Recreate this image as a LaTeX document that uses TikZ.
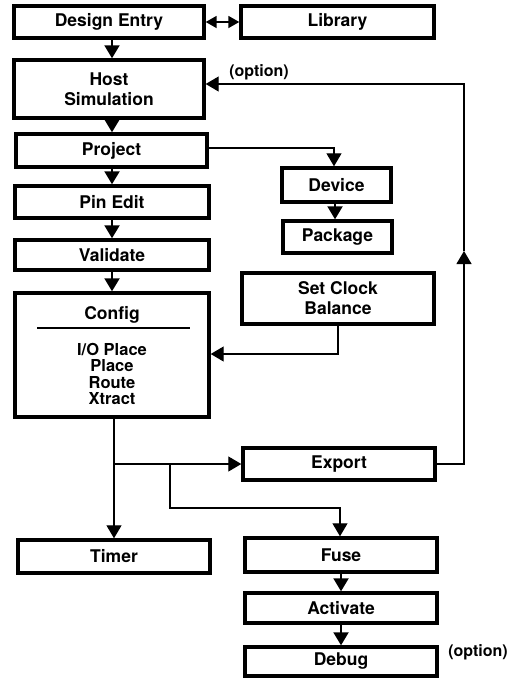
\documentclass[tikz,border=0pt]{standalone}
\usepackage{fontspec}
\setmainfont{TeX Gyre Heros}
\usetikzlibrary{arrows.meta}
\begin{document}
\begin{tikzpicture}[x=1pt,y=-1pt,
  box/.style={draw,line width=3.4pt,inner sep=0pt,font=\fontsize{17.5}{20}\selectfont\bfseries,align=center},
  sarrow/.style={line width=2pt,-{Triangle[length=13pt,width=15pt]}},
  larrow/.style={line width=1.2pt,-{Triangle[length=13pt,width=15pt]}},
  conn/.style={line width=1.2pt},
  lbl/.style={font=\fontsize{16}{18}\selectfont\bfseries,inner sep=0pt},
  cline/.style={font=\fontsize{16.5}{17}\selectfont\bfseries,inner sep=0pt,anchor=base,text height=11.5pt,text depth=3pt}]
\useasboundingbox (0,0) rectangle (521,678);
% boxes
\node[box,minimum width=190pt,minimum height=32pt] (de) at (109,22) {Design Entry};
\node[box,minimum width=193pt,minimum height=32pt] (lib) at (337.5,22) {Library};
\node[box,minimum width=190pt,minimum height=58pt] (host) at (109,89) {Host\\Simulation};
\node[box,minimum width=191pt,minimum height=33pt] (proj) at (111.5,150.5) {Project};
\node[box,minimum width=194pt,minimum height=32pt] (pin) at (112,202) {Pin Edit};
\node[box,minimum width=194pt,minimum height=30pt] (val) at (112,255) {Validate};
\node[box,minimum width=194pt,minimum height=124pt] (cfg) at (112,355) {};
\node[cline,font=\fontsize{17.5}{18}\selectfont\bfseries] (cfgt) at (112,319.5) {Config};
\draw[line width=1.2pt] (37,328) -- (190,328);
\node[cline] (cfg1) at (112,355) {I/O Place};
\node[cline] (cfg2) at (112,371.5) {Place};
\node[cline] (cfg3) at (112,388) {Route};
\node[cline] (cfg4) at (112,404.5) {Xtract};
\node[box,minimum width=109pt,minimum height=34pt] (dev) at (336.5,185) {Device};
\node[box,minimum width=109pt,minimum height=32pt] (pkg) at (337.5,237) {Package};
\node[box,minimum width=192pt,minimum height=51pt] (clk) at (338,298.5) {Set Clock\\Balance};
\node[box,minimum width=192pt,minimum height=32pt] (exp) at (339,464) {Export};
\node[box,minimum width=192pt,minimum height=33pt] (tim) at (114,556.5) {Timer};
\node[box,minimum width=192pt,minimum height=34pt] (fuse) at (341,555) {Fuse};
\node[box,minimum width=192pt,minimum height=30pt] (act) at (341,608) {Activate};
\node[box,minimum width=192pt,minimum height=29pt] (dbg) at (341,661.5) {Debug};
% labels
\node[lbl] (opt1) at (259,72) {(option)};
\node[lbl] (opt2) at (478,652) {(option)};
% helper coordinates
\coordinate (j1) at (114,464);
\coordinate (j2) at (170,464);
\coordinate (j3) at (170,508);
\coordinate (fb1) at (464,464);
\coordinate (fbm) at (464,251);
\coordinate (fb2) at (464,84);
\coordinate (ck) at (338,354);
% connectors
\draw[line width=1.8pt,{Triangle[length=11pt,width=12pt]}-{Triangle[length=11pt,width=12pt]}] (de.east) -- (lib.west);
\draw[sarrow] (de.south -| 112,0) -- (host.north -| 112,0);
\draw[sarrow] (host.south -| 112,0) -- (proj.north -| 112,0);
\draw[sarrow] (proj.south -| 112,0) -- (pin.north -| 112,0);
\draw[sarrow] (pin.south -| 112,0) -- (val.north -| 112,0);
\draw[sarrow] (val.south -| 112,0) -- (cfg.north -| 112,0);
\draw[larrow] (proj.east |- 0,148) -| (dev.north -| 334,0);
\draw[sarrow] (dev.south -| 335,0) -- (pkg.north -| 335,0);
\draw[larrow] (clk.south) -- (ck) -- (cfg.east |- ck);
\draw[conn] (cfg.south -| j1) -- (j1);
\draw[larrow] (j1) -- (tim.north -| j1);
\draw[larrow] (j1) -- (exp.west);
\draw[larrow] (j2) -- (j3) -| (fuse.north -| 340,0);
\draw[sarrow] (fuse.south) -- (act.north);
\draw[sarrow] (act.south) -- (dbg.north);
\draw[larrow] (exp.east) -- (fb1) -- (fbm);
\draw[larrow] (fbm) -- (fb2) -- (host.east |- fb2);
\end{tikzpicture}
\end{document}
